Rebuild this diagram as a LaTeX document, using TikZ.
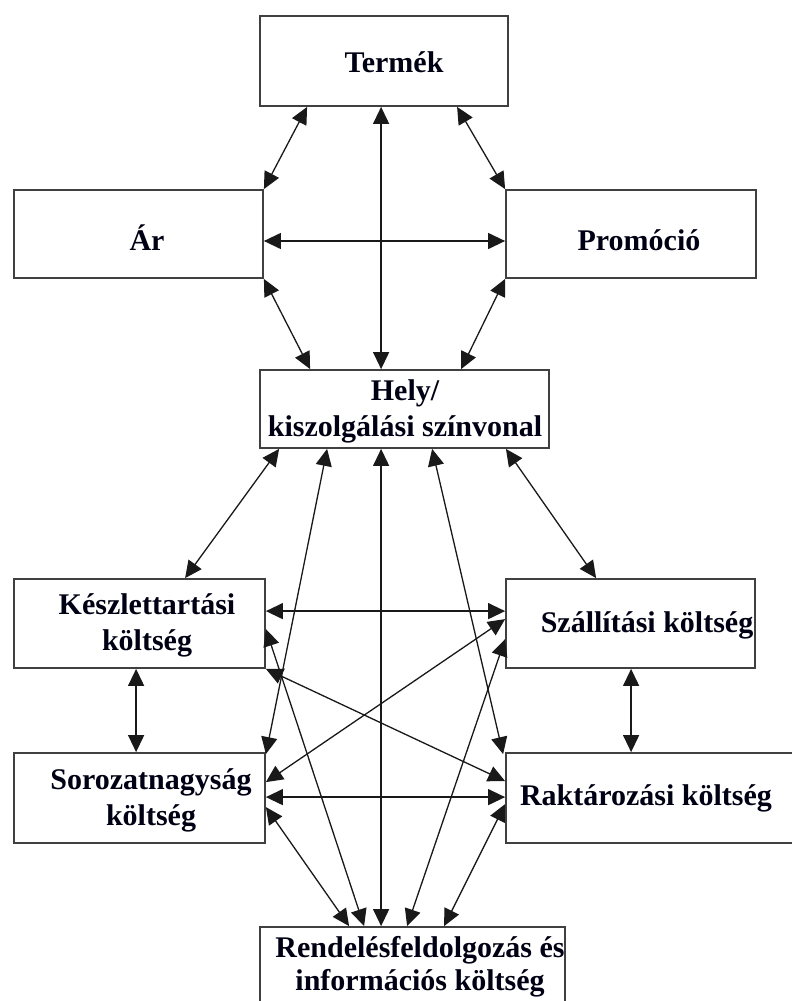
\documentclass[tikz,border=0pt]{standalone}
\usepackage{fontspec}
\setmainfont{Liberation Serif}
\usetikzlibrary{arrows.meta,calc}
\begin{document}
\begin{tikzpicture}[x=1pt,y=-1pt,
  box/.style={draw=black!75, line width=1.8pt, inner sep=0pt},
  txt/.style={font=\fontsize{30}{36}\selectfont\bfseries, align=center, inner sep=0pt, text=black!92!blue},
  link/.style={draw=black!90, line width=1.3pt, {Triangle[length=17pt,width=16pt]}-{Triangle[length=17pt,width=16pt]}}
]
\useasboundingbox (0,0) rectangle (792,1001);
\clip (0,0) rectangle (792,1001);
\fill[white] (0,0) rectangle (792,1001);

% boxes
\node[box, minimum width=248pt, minimum height=90pt] (ter) at (384,61) {};
\node[box, minimum width=249pt, minimum height=88pt] (ar) at (138.5,234) {};
\node[box, minimum width=250pt, minimum height=88pt] (promo) at (631,234) {};
\node[box, minimum width=289pt, minimum height=78pt] (hely) at (404.5,409) {};
\node[box, minimum width=251pt, minimum height=89pt] (kesz) at (139.5,623.5) {};
\node[box, minimum width=249pt, minimum height=89pt] (szall) at (630.5,623.5) {};
\node[box, minimum width=251pt, minimum height=90pt] (soroz) at (139.5,798) {};
\node[box, minimum width=294pt, minimum height=90pt] (rakt) at (653,798) {};
\node[box, minimum width=305pt, minimum height=88pt] (rend) at (412.5,971) {};

% texts
\node[txt] (terT) at (394,62) {Termék};
\node[txt] (arT) at (147,238) {Ár};
\node[txt] (promoT) at (639,240) {Promóció};
\node[txt] (helyT) at (405,411) {Hely/\\kiszolgálási színvonal};
\node[txt] (keszT) at (147,625) {Készlettartási\\költség};
\node[txt] (sorozT) at (151,800) {Sorozatnagyság\\költség};
\node[txt] (szallT) at (647,625) {Szállítási költség};
\node[txt] (raktT) at (646,798) {Raktározási költség};
\node[txt] (rendT) at (420,967) {Rendelésfeldolgozás és\\[-3pt]információs költség};

% connectors
\draw[link] ($(ter.south west)+(48,0)$) -- (ar.north east);
\draw[link] ($(ter.south west)+(122,0)$) -- ($(hely.north west)+(122,0)$);
\draw[link] ($(ter.south west)+(198,0)$) -- (promo.north west);
\draw[link] ($(ar.east)+(0,7)$) -- ($(promo.west)+(0,7)$);
\draw[link] (ar.south east) -- ($(hely.north west)+(51,0)$);
\draw[link] (promo.south west) -- ($(hely.north west)+(202,0)$);

\draw[link] ($(hely.south west)+(20,0)$) -- ($(kesz.north west)+(172,0)$);
\draw[link] ($(hely.south west)+(68,0)$) -- ($(soroz.north east)+(0,2)$);
\draw[link] ($(hely.south west)+(122,0)$) -- ($(rend.north west)+(122,0)$);
\draw[link] ($(hely.south west)+(173,0)$) -- ($(rakt.north west)+(-2,2)$);
\draw[link] ($(hely.south east)+(-44,0)$) -- ($(szall.north west)+(91,0)$);

\draw[link] ($(kesz.north east)+(0,33)$) -- ($(szall.north west)+(0,33)$);
\draw[link] ($(kesz.north east)+(0,51)$) -- ($(rend.north west)+(105,0)$);
\draw[link] (kesz.south east) -- ($(rakt.north west)+(0,29)$);
\draw[link] ($(szall.north west)+(0,41)$) -- ($(soroz.north east)+(0,30)$);
\draw[link] ($(szall.north west)+(0,61)$) -- ($(rend.north west)+(148,0)$);
\draw[link] ($(kesz.south west)+(123,0)$) -- ($(soroz.north west)+(123,0)$);
\draw[link] ($(szall.south west)+(126,0)$) -- ($(rakt.north west)+(126,0)$);
\draw[link] ($(soroz.north east)+(0,45)$) -- ($(rakt.north west)+(0,45)$);
\draw[link] ($(soroz.north east)+(0,55)$) -- ($(rend.north west)+(90,0)$);
\draw[link] ($(rakt.north west)+(0,52)$) -- ($(rend.north west)+(185,0)$);
\end{tikzpicture}
\end{document}
